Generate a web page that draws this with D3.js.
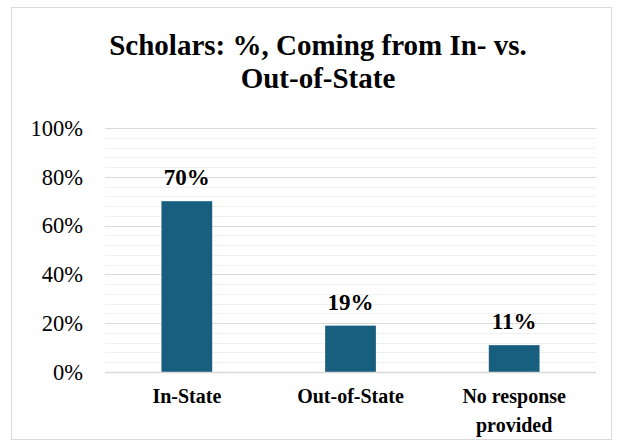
<!DOCTYPE html>
<html>
<head>
<meta charset="utf-8">
<script src="https://cdn.jsdelivr.net/npm/d3@7"></script>
</head>
<body style="margin:0; background:#fff">
<div id="container"></div>
<script>
const categories = ["In-State", "Out-of-State", "No response provided"];
const values = [70, 19, 11];
const tickValues = [0, 20, 40, 60, 80, 100];
const titleLines = ["Scholars: %, Coming from In- vs.", "Out-of-State"];

const FONT = "Liberation Serif";
const w = 618, h = 448;
const margin = {top: 128, right: 22, bottom: 76, left: 105};

const svg = d3.select("#container")
    .append("svg")
    .attr("width", w)
    .attr("height", h)
    .attr("font-family", FONT)
    .style("display", "block");

// chart frame
svg.append("rect")
    .attr("x", 11.5)
    .attr("y", 7.5)
    .attr("width", 600)
    .attr("height", 432)
    .attr("fill", "#fff")
    .attr("stroke", "#d9d9d9")
    .attr("stroke-width", 1);

const x = d3.scaleBand()
    .domain(categories)
    .range([margin.left, w - margin.right])
    .paddingInner(0.69)
    .paddingOuter(0.345);

const y = d3.scaleLinear()
    .domain([0, 100])
    .range([h - margin.bottom, margin.top]);

// minor gridlines every 4%
svg.append("g")
    .selectAll("line")
    .data(d3.range(0, 101, 4).filter(d => d % 20 !== 0))
    .enter()
    .append("line")
    .attr("x1", margin.left)
    .attr("x2", w - margin.right)
    .attr("y1", d => Math.round(y(d)) + 0.5)
    .attr("y2", d => Math.round(y(d)) + 0.5)
    .attr("stroke", "#f0f0f0")
    .attr("stroke-width", 1);

// major gridlines
svg.append("g")
    .selectAll("line")
    .data(tickValues.filter(d => d > 0))
    .enter()
    .append("line")
    .attr("x1", margin.left)
    .attr("x2", w - margin.right)
    .attr("y1", d => Math.round(y(d)) + 0.5)
    .attr("y2", d => Math.round(y(d)) + 0.5)
    .attr("stroke", "#d9d9d9")
    .attr("stroke-width", 1);

// y axis labels
const yAxis = d3.axisLeft(y)
    .tickValues(tickValues)
    .tickSize(0)
    .tickPadding(22)
    .tickFormat(d => d + "%");

svg.append("g")
    .attr("transform", "translate(" + margin.left + ",0)")
    .call(yAxis)
    .attr("font-family", FONT)
    .attr("font-size", 22.5)
    .call(g => g.select(".domain").remove())
    .selectAll("text")
    .attr("fill", "#000");

// bars
svg.append("g")
    .selectAll("rect")
    .data(values)
    .enter()
    .append("rect")
    .attr("x", (d, i) => x(categories[i]))
    .attr("y", d => y(d))
    .attr("width", x.bandwidth())
    .attr("height", d => y(0) - y(d))
    .attr("fill", "#175e7f");

// baseline
svg.append("line")
    .attr("x1", margin.left)
    .attr("x2", w - margin.right)
    .attr("y1", Math.round(y(0)) + 0.5)
    .attr("y2", Math.round(y(0)) + 0.5)
    .attr("stroke", "#d9d9d9")
    .attr("stroke-width", 1.5);

// value labels
svg.append("g")
    .selectAll("text")
    .data(values)
    .enter()
    .append("text")
    .attr("x", (d, i) => x(categories[i]) + x.bandwidth() / 2)
    .attr("y", d => y(d) - 16)
    .attr("text-anchor", "middle")
    .attr("font-size", 23)
    .attr("font-weight", "bold")
    .text(d => d + "%");

// category labels, wrapped like the original
const wrapped = {"No response provided": ["No response", "provided"]};
const xLabels = svg.append("g")
    .selectAll("text")
    .data(categories)
    .enter()
    .append("text")
    .attr("x", d => x(d) + x.bandwidth() / 2)
    .attr("y", y(0) + 31)
    .attr("text-anchor", "middle")
    .attr("font-size", 20)
    .attr("font-weight", "bold");

xLabels.selectAll("tspan")
    .data(d => wrapped[d] || [d])
    .enter()
    .append("tspan")
    .attr("x", function() { return d3.select(this.parentNode).attr("x"); })
    .attr("dy", (d, i) => i === 0 ? 0 : 29)
    .text(d => d);

// title
svg.append("g")
    .selectAll("text")
    .data(titleLines)
    .enter()
    .append("text")
    .attr("x", 318)
    .attr("y", (d, i) => 55 + i * 33)
    .attr("text-anchor", "middle")
    .attr("font-size", 29)
    .attr("font-weight", "bold")
    .text(d => d);
</script>
</body>
</html>
